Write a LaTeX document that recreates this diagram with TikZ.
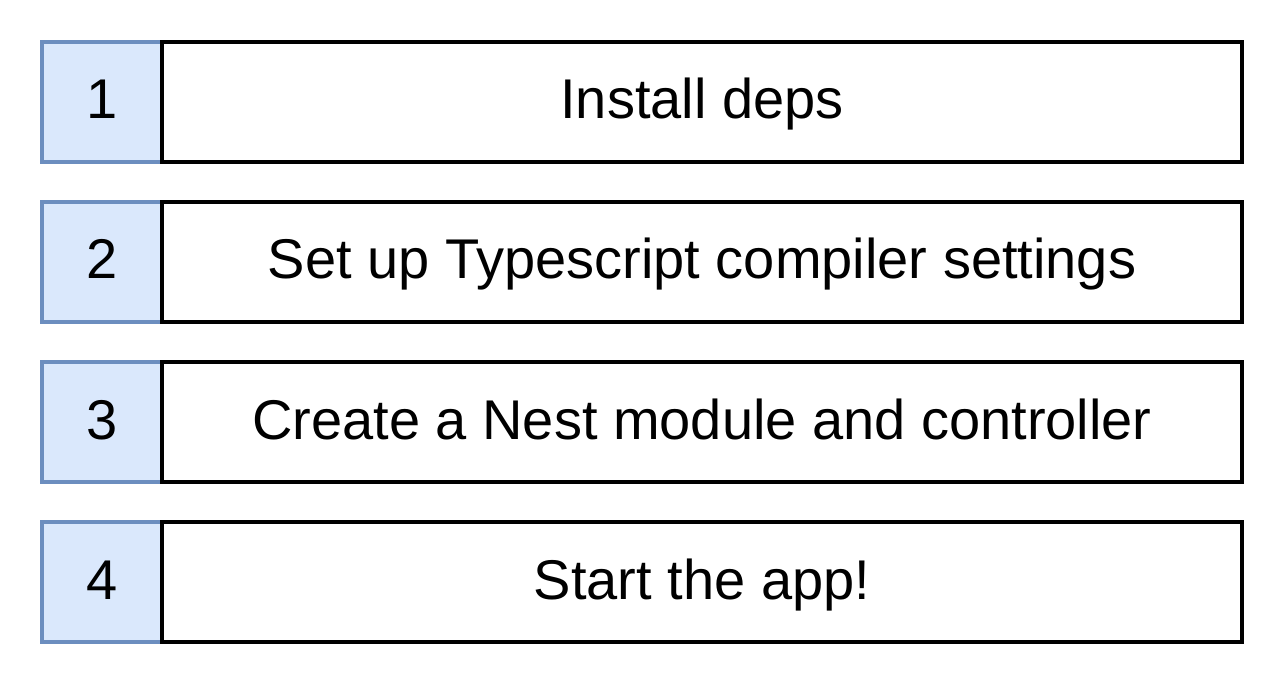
\documentclass[tikz,border=0pt]{standalone}
\usepackage{fontspec}
\setmainfont{Liberation Sans}
\definecolor{numfill}{HTML}{DAE8FC}
\definecolor{numdraw}{HTML}{6C8EBF}
\begin{document}
\begin{tikzpicture}[x=1pt,y=-1pt,
  boxtext/.style={inner sep=0pt,outer sep=0pt,anchor=north west,text height=40pt,text depth=6pt,font=\fontsize{56}{60}\selectfont},
  numbox/.style={boxtext,draw=numdraw,fill=numfill,line width=3.5pt,minimum width=120pt,minimum height=120pt},
  stepbox/.style={boxtext,draw=black,fill=white,line width=3.5pt,minimum width=1080pt,minimum height=120pt}]
\useasboundingbox (0,0) rectangle (1284,684);
\foreach \i/\t [count=\k] in {0/Install deps,160/Set up Typescript compiler settings,320/Create a Nest module and controller,480/Start the app!}{
  \node[numbox] (n\k) at (42,42+\i) {\k};
  \node[stepbox] (s\k) at (162,42+\i) {\t};
}
\end{tikzpicture}
\end{document}
